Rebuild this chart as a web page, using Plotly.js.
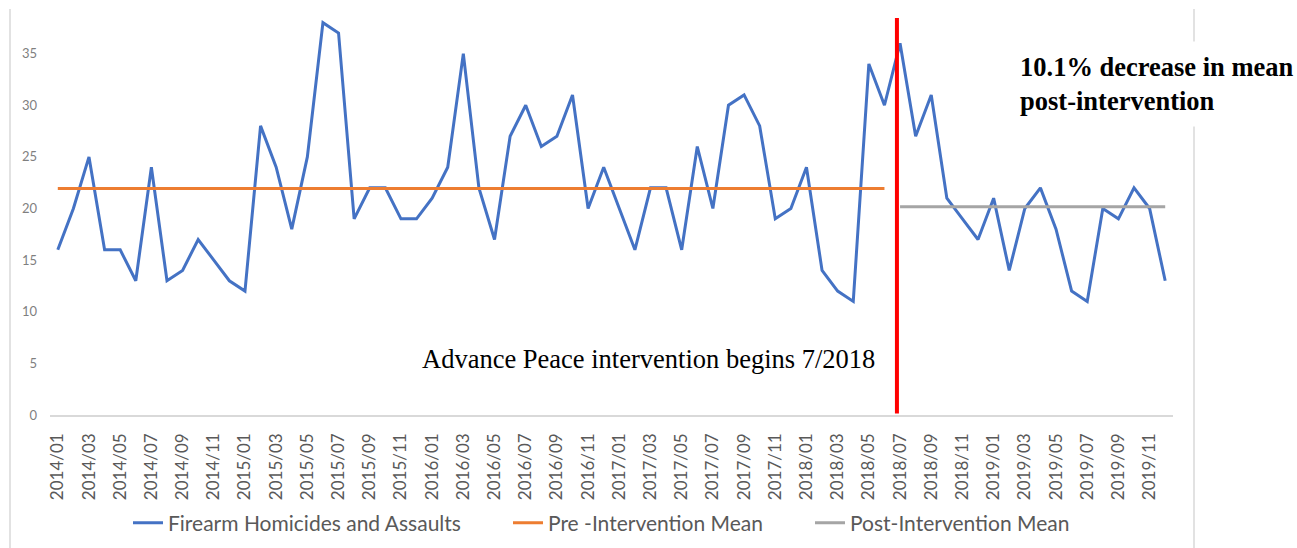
<!DOCTYPE html>
<html>
<head>
<meta charset="utf-8">
<script src="https://cdn.plot.ly/plotly-3.0.1.min.js"></script>
<style>
html,body{margin:0;padding:0;background:#ffffff;}
#chart{width:1297px;height:548px;}
</style>
</head>
<body>
<div id="chart"></div>
<script>
// ---- data ----
const months = [
  '2014/01','2014/02','2014/03','2014/04','2014/05','2014/06','2014/07','2014/08','2014/09','2014/10','2014/11','2014/12',
  '2015/01','2015/02','2015/03','2015/04','2015/05','2015/06','2015/07','2015/08','2015/09','2015/10','2015/11','2015/12',
  '2016/01','2016/02','2016/03','2016/04','2016/05','2016/06','2016/07','2016/08','2016/09','2016/10','2016/11','2016/12',
  '2017/01','2017/02','2017/03','2017/04','2017/05','2017/06','2017/07','2017/08','2017/09','2017/10','2017/11','2017/12',
  '2018/01','2018/02','2018/03','2018/04','2018/05','2018/06','2018/07','2018/08','2018/09','2018/10','2018/11','2018/12',
  '2019/01','2019/02','2019/03','2019/04','2019/05','2019/06','2019/07','2019/08','2019/09','2019/10','2019/11','2019/12'
];
const firearmHomicidesAssaults = [
  16,20,25,16,16,13,24,13,14,17,15,13,
  12,28,24,18,25,38,37,19,22,22,19,19,
  21,24,35,22,17,27,30,26,27,31,20,24,
  20,16,22,22,16,26,20,30,31,28,19,20,
  24,14,12,11,34,30,36,27,31,21,19,17,
  21,14,20,22,18,12,11,20,19,22,20,13
];
const tickLabels = [
  '2014/01','2014/03','2014/05','2014/07','2014/09','2014/11',
  '2015/01','2015/03','2015/05','2015/07','2015/09','2015/11',
  '2016/01','2016/03','2016/05','2016/07','2016/09','2016/11',
  '2017/01','2017/03','2017/05','2017/07','2017/09','2017/11',
  '2018/01','2018/03','2018/05','2018/07','2018/09','2018/11',
  '2019/01','2019/03','2019/05','2019/07','2019/09','2019/11'
];
const yTicks = [0,5,10,15,20,25,30,35];
const interventionMonth = '2018/07';
const seriesNames = ['Firearm Homicides and Assaults','Pre -Intervention Mean','Post-Intervention Mean'];

// ---- derived ----
const cut = months.indexOf(interventionMonth);
const preMonths = months.slice(0, cut);
const postMonths = months.slice(cut);
const preVals = firearmHomicidesAssaults.slice(0, cut);
const postVals = firearmHomicidesAssaults.slice(cut);
const mean = a => a.reduce((s,v)=>s+v,0)/a.length;
const preMean = mean(preVals);
const postMean = mean(postVals);

const legendFont = {family:'Lato, "Open Sans", sans-serif', size:21, color:'#595959'};

const traces = [
  {x: months, y: firearmHomicidesAssaults, type:'scatter', mode:'lines', name: seriesNames[0],
   line:{color:'#4472C4', width:3}, legend:'legend'},
  {x: preMonths, y: preMonths.map(()=>preMean), type:'scatter', mode:'lines', name: seriesNames[1],
   line:{color:'#ED7D31', width:3}, legend:'legend2'},
  {x: postMonths, y: postMonths.map(()=>postMean), type:'scatter', mode:'lines', name: seriesNames[2],
   line:{color:'#A5A5A5', width:3}, legend:'legend3'}
];

const mkLegend = (xpx) => ({
  orientation:'h', xref:'container', yref:'container', x: xpx/1297, y: 1-523/548,
  xanchor:'left', yanchor:'middle', font: legendFont, bgcolor:'rgba(0,0,0,0)', borderwidth:0,
  itemwidth:30
});

const layout = {
  width:1297, height:548,
  margin:{l:50, r:124, t:2, b:133},
  paper_bgcolor:'#ffffff', plot_bgcolor:'#ffffff',
  showlegend:true,
  legend: mkLegend(128),
  legend2: mkLegend(508),
  legend3: mkLegend(810),
  xaxis:{
    type:'category', categoryorder:'array', categoryarray: months,
    range:[-0.5, months.length-0.5],
    tickmode:'array', tickvals: tickLabels, ticktext: tickLabels,
    tickangle:-90, ticks:'', showgrid:false, zeroline:false,
    showline:true, linecolor:'#d9d9d9', linewidth:1.5,
    ticklabelstandoff:10,
    tickfont:{family:'Lato, "Open Sans", sans-serif', size:17, color:'#595959'}
  },
  yaxis:{
    range:[0,40], tickmode:'array', tickvals: yTicks, ticktext: yTicks.map(String),
    showgrid:false, zeroline:false, showline:false, ticks:'',
    ticklabelstandoff:12,
    tickfont:{family:'Lato, "Open Sans", sans-serif', size:13, color:'#7f7f7f'}
  },
  shapes:[
    // chart-area border lines
    {type:'line', xref:'paper', yref:'paper', x0:(10-50)/1123, x1:(10-50)/1123, y0:(415-9)/413, y1:(415-548)/413,
     line:{color:'#d9d9d9', width:1.5}, layer:'below'},
    {type:'line', xref:'paper', yref:'paper', x0:(1194-50)/1123, x1:(1194-50)/1123, y0:(415-9)/413, y1:(415-548)/413,
     line:{color:'#d9d9d9', width:1.5}, layer:'below'},
    // intervention marker
    {type:'line', xref:'x', yref:'y', x0: cut-0.2, x1: cut-0.2, y0:0.15, y1:38.45,
     line:{color:'#FF0000', width:4}, layer:'above'}
  ],
  annotations:[
    {xref:'paper', yref:'paper', x:(877-50)/1123, y:(415-359)/413, xanchor:'right', yanchor:'middle',
     text:'Advance Peace intervention begins 7/2018', showarrow:false,
     font:{family:'"Times New Roman", "Liberation Serif", serif', size:26.5, color:'#000000'}},
    {xref:'paper', yref:'paper', x:(1009-50)/1123, y:(415-84)/413, xanchor:'left', yanchor:'middle',
     text:'<b>10.1% decrease in mean</b><br><b>post-intervention</b>', showarrow:false, align:'left',
     bgcolor:'#ffffff', borderpad:10,
     font:{family:'"Times New Roman", "Liberation Serif", serif', size:26.5, color:'#000000'}}
  ]
};

Plotly.newPlot('chart', traces, layout, {displayModeBar:false, staticPlot:true});
</script>
</body>
</html>
